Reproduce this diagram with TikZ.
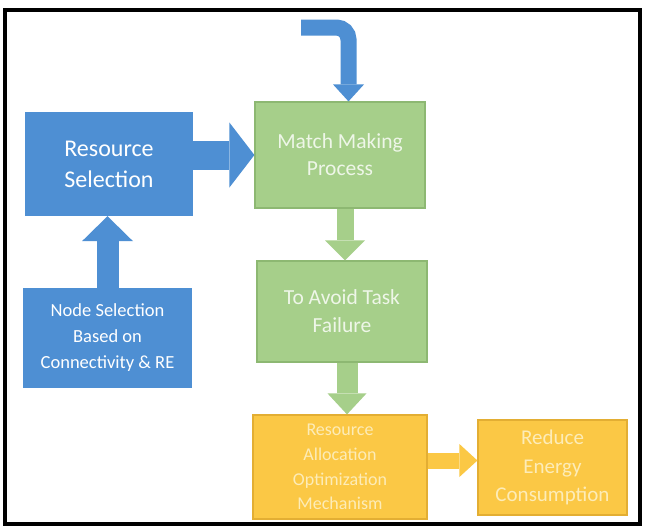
\documentclass[tikz,border=0pt]{standalone}
\usepackage{fontspec}
\setmainfont{Carlito}
\usetikzlibrary{arrows.meta,calc}
\definecolor{bluebox}{HTML}{4E8FD3}
\definecolor{greenbox}{HTML}{A6CF8A}
\definecolor{greenedge}{HTML}{8DB872}
\definecolor{yellowbox}{HTML}{FBC845}
\definecolor{yellowedge}{HTML}{E3AE33}
\definecolor{greentext}{HTML}{EEF6E8}
\definecolor{yellowtext}{HTML}{FDECB8}
\tikzset{
  box/.style={rectangle, align=center, inner sep=0pt},
  bluebx/.style={box, fill=bluebox, text=white},
  greenbx/.style={box, fill=greenbox, draw=greenedge, line width=1.2pt, text=greentext},
  yellowbx/.style={box, fill=yellowbox, draw=yellowedge, line width=1.2pt, text=yellowtext},
  blockarrow/.style n args={4}{line width=#1, draw=#4,
     -{Triangle[length=#2, width=#3, line width=0pt, fill=#4]}},
}
\begin{document}
\begin{tikzpicture}[x=1pt,y=-1pt]
\useasboundingbox (0,0) rectangle (645,528);
\fill[white] (0,0) rectangle (645,528);
\draw[black, line width=3.5pt] (5,10) rectangle (640,524);

% nodes
\node[bluebx, minimum width=168, minimum height=104, font=\fontsize{24}{31}\selectfont]
  (rs) at (109,164) {Resource\\Selection};
\node[bluebx, minimum width=169, minimum height=100, font=\fontsize{18.5}{26}\selectfont]
  (ns) at (107.5,338) {Node Selection\\Based on\\Connectivity \& RE};
\node[greenbx, minimum width=170, minimum height=106, font=\fontsize{21.5}{27}\selectfont]
  (mm) at (340,155) {Match Making\\Process};
\node[greenbx, minimum width=170, minimum height=101, font=\fontsize{21.5}{28}\selectfont]
  (av) at (342,311.5) {To Avoid Task\\Failure};
\node[yellowbx, minimum width=174, minimum height=104, font=\fontsize{18}{24.7}\selectfont]
  (ra) at (340,467) {Resource\\Allocation\\Optimization\\Mechanism};
\node[yellowbx, minimum width=149, minimum height=95, font=\fontsize{21}{28.5}\selectfont]
  (re) at (552.5,467.5) {Reduce\\Energy\\Consumption};

\coordinate (start) at (301,27.5);

% connectors
\draw[blockarrow={16pt}{17pt}{31pt}{bluebox}, rounded corners=12pt]
  (start) -| ([xshift=8.5]mm.north);
\draw[blockarrow={29pt}{25pt}{65pt}{bluebox}]
  (rs.east |- mm.west) -- (mm.west);
\draw[blockarrow={22pt}{25pt}{51pt}{bluebox}]
  (ns.north) -- (ns.north |- rs.south);
\draw[blockarrow={17pt}{20pt}{40pt}{greenbox}]
  ([xshift=5]mm.south) -- ([xshift=5]mm.south |- av.north);
\draw[blockarrow={21pt}{21pt}{39pt}{greenbox}]
  ([xshift=5]av.south) -- ([xshift=5]av.south |- ra.north);
\draw[blockarrow={16pt}{18pt}{33pt}{yellowbox}]
  ([yshift=6.5]ra.east) -- ([yshift=6.5]ra.east -| re.west);
\end{tikzpicture}
\end{document}
